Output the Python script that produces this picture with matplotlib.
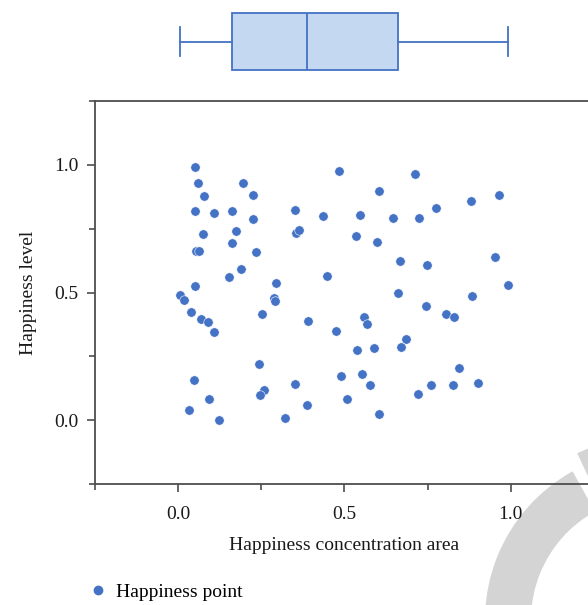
import matplotlib
matplotlib.use("Agg")
import matplotlib.pyplot as plt
from matplotlib.patches import Wedge
from matplotlib.ticker import MultipleLocator
from matplotlib.lines import Line2D

# ---- data ----
x_area = [0.050, 0.482, 0.713, 0.059, 0.195, 0.605, 0.965, 0.078, 0.225, 0.879,
          0.774, 0.052, 0.107, 0.161, 0.350, 0.435, 0.548, 0.647, 0.723, 0.226,
          0.074, 0.175, 0.353, 0.363, 0.534, 0.599, 0.163, 0.055, 0.063, 0.235,
          0.952, 0.668, 0.747, 0.190, 0.154, 0.448, 0.295, 0.992, 0.052, 0.661,
          0.006, 0.019, 0.287, 0.290, 0.882, 0.744, 0.039, 0.251, 0.804, 0.829,
          0.559, 0.069, 0.090, 0.390, 0.568, 0.108, 0.473, 0.684, 0.671, 0.590,
          0.539, 0.244, 0.844, 0.554, 0.489, 0.047, 0.350, 0.577, 0.761, 0.825,
          0.901, 0.259, 0.245, 0.721, 0.094, 0.508, 0.388, 0.033, 0.604, 0.322,
          0.122]
y_level = [0.992, 0.974, 0.966, 0.928, 0.928, 0.899, 0.882, 0.876, 0.880, 0.859,
           0.832, 0.819, 0.811, 0.820, 0.822, 0.800, 0.804, 0.792, 0.791, 0.788,
           0.730, 0.740, 0.734, 0.745, 0.721, 0.698, 0.694, 0.663, 0.663, 0.660,
           0.640, 0.625, 0.607, 0.591, 0.560, 0.565, 0.539, 0.531, 0.525, 0.500,
           0.492, 0.471, 0.478, 0.466, 0.488, 0.447, 0.423, 0.416, 0.414, 0.405,
           0.406, 0.397, 0.385, 0.390, 0.377, 0.345, 0.349, 0.317, 0.288, 0.283,
           0.274, 0.221, 0.204, 0.180, 0.174, 0.157, 0.141, 0.138, 0.136, 0.138,
           0.145, 0.118, 0.099, 0.103, 0.081, 0.081, 0.059, 0.040, 0.023, 0.008,
           0.001]
x_ticks = [0.0, 0.5, 1.0]
y_ticks = [0.0, 0.5, 1.0]
tick_labels = ["0.0", "0.5", "1.0"]
legend_label = "Happiness point"
x_title = "Happiness concentration area"
y_title = "Happiness level"

plt.rcParams['font.family'] = ['Liberation Serif', 'DejaVu Serif']
plt.rcParams['font.size'] = 14

W, H = 588, 605
fig = plt.figure(figsize=(W / 100, H / 100), dpi=100)

blue = '#4472C4'
spine_c = '#4d4d4d'

# watermark ring (behind everything)
ring_kw = dict(transform=fig.dpi_scale_trans, facecolor='#d4d4d4', edgecolor='none', zorder=-5)
fig.patches.append(Wedge((6.55, -0.15), 1.70, 119, 275, width=0.46, **ring_kw))
fig.patches.append(Wedge((6.55, -0.15), 1.84, 95, 115, width=0.46, **ring_kw))

def px_box(l, t, r, b):
    return [l / W, 1 - b / H, (r - l) / W, (b - t) / H]

ax = fig.add_axes(px_box(95, 101, 594, 484))
ax.patch.set_alpha(0)
ax.scatter(x_area, y_level, s=46, color=blue, edgecolors='white', linewidths=0.4,
           zorder=3, label=legend_label)
ax.set_xlim(-0.25, 1.25)
ax.set_ylim(-0.25, 1.25)
ax.set_xticks(x_ticks)
ax.set_xticklabels(tick_labels)
ax.set_yticks(y_ticks)
ax.set_yticklabels(tick_labels)
ax.xaxis.set_minor_locator(MultipleLocator(0.25))
ax.yaxis.set_minor_locator(MultipleLocator(0.25))
for s in ['top', 'left', 'bottom']:
    ax.spines[s].set_color(spine_c)
    ax.spines[s].set_linewidth(1.3)
ax.spines['right'].set_visible(False)
ax.tick_params(which='major', length=6, width=1.2, color=spine_c, pad=6, labelcolor='#1a1a1a')
ax.tick_params(which='minor', length=4, width=1.2, color=spine_c)
ax.tick_params(axis='x', which='major', pad=10)
ax.set_xlabel(x_title, color='#1a1a1a', labelpad=10)
ax.set_ylabel(y_title, color='#1a1a1a', labelpad=12)

# top boxplot of x values
axb = fig.add_axes(px_box(95, 5, 594, 78), sharex=ax)
axb.patch.set_alpha(0)
axb.boxplot(x_area, vert=False, positions=[1], widths=0.78, patch_artist=True,
            showfliers=False,
            boxprops=dict(facecolor='#c5d8f1', edgecolor=blue, linewidth=1.3),
            medianprops=dict(color=blue, linewidth=1.3),
            whiskerprops=dict(color=blue, linewidth=1.3),
            capprops=dict(color=blue, linewidth=1.3))
axb.set_ylim(0.5, 1.5)
axb.axis('off')
ax.set_xlim(-0.25, 1.25)

handle = Line2D([], [], marker='o', linestyle='none', color=blue, markersize=6)
fig.legend([handle], [legend_label], loc='center left', frameon=False,
           bbox_to_anchor=(71 / W, 1 - 592 / H), handlelength=1.0,
           handletextpad=0.4, fontsize=14)

fig.savefig('out.png', dpi=100)
